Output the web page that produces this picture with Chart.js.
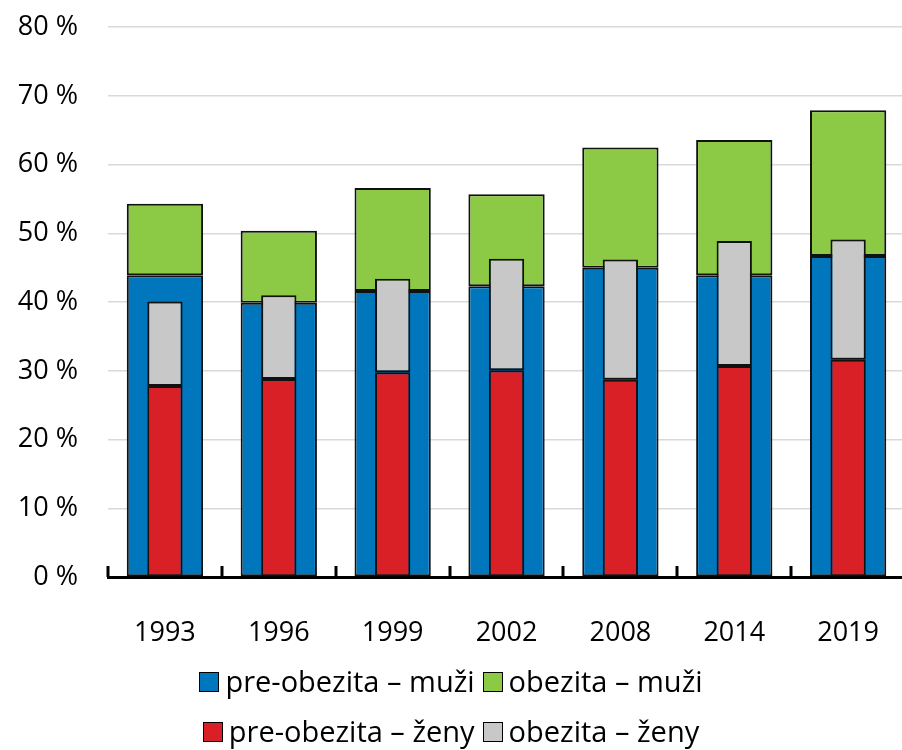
<!DOCTYPE html>
<html>
<head>
<meta charset="utf-8">
<script src="https://cdn.jsdelivr.net/npm/chart.js@4"></script>
<style>
  html, body { margin:0; background:#fff; font-family:"Open Sans", sans-serif; overflow:hidden; }
  #wrap { width:902px; height:750px; position:relative; overflow:hidden; }
  #myChart { position:absolute; left:0; top:-19px; }
  #legend { position:absolute; left:0; top:655px; width:902px; }
  .row { display:flex; justify-content:center; height:50px; align-items:center; font-size:29px; color:#000; }
  .item { display:flex; align-items:center; margin:0 4px; }
  .box { width:18px; height:18px; border:1.5px solid #000; margin-right:6px; margin-top:4px; }
</style>
</head>
<body>
<div id="wrap">
  <canvas id="myChart" width="911" height="679"></canvas>
  <div id="legend"></div>
</div>
<script>
// years
const labels = ['1993', '1996', '1999', '2002', '2008', '2014', '2019'];

// men, % of population
const preMen = [43.9, 39.9, 41.6, 42.3, 45.0, 43.9, 46.7];
const obeseMen = [10.4, 10.5, 15.0, 13.4, 17.5, 19.7, 21.2];

// women, % of population
const preWomen = [27.8, 28.8, 29.8, 30.1, 28.7, 30.7, 31.6];
const obeseWomen = [12.3, 12.2, 13.6, 16.2, 17.5, 18.2, 17.5];

const seriesNames = ['pre-obezita – muži', 'obezita – muži', 'pre-obezita – ženy', 'obezita – ženy'];
const seriesColors = ['#0077bd', '#8cc944', '#d92027', '#c8c8c8'];

const yTicks = [0, 10, 20, 30, 40, 50, 60, 70, 80];

const wide = 0.67;
const narrow = 0.31;

function bar(i, values, stack, pct, order) {
  return {
    label: seriesNames[i],
    data: values,
    backgroundColor: seriesColors[i],
    borderColor: '#111',
    borderWidth: 2,
    borderSkipped: false,
    stack: stack,
    grouped: false,
    barPercentage: pct,
    categoryPercentage: 1,
    order: order
  };
}

// small upward tick marks at category borders on the x axis
const axisTicks = {
  id: 'axisTicks',
  afterDraw(chart) {
    const ctx = chart.ctx;
    const a = chart.chartArea;
    const n = labels.length;
    const step = (a.right - a.left) / n;
    ctx.save();
    ctx.strokeStyle = '#000';
    ctx.lineWidth = 3;
    for (let i = 0; i <= n; i++) {
      const x = Math.round(a.left + i * step);
      ctx.beginPath();
      ctx.moveTo(x, a.bottom - 11);
      ctx.lineTo(x, a.bottom);
      ctx.stroke();
    }
    ctx.restore();
  }
};

const font = { family: '"Open Sans", sans-serif', size: 27 };

const config = {
  type: 'bar',
  data: {
    labels: labels,
    datasets: [
      bar(0, preMen, 'men', wide, 2),
      bar(1, obeseMen, 'men', wide, 2),
      bar(2, preWomen, 'women', narrow, 1),
      bar(3, obeseWomen, 'women', narrow, 1)
    ]
  },
  options: {
    responsive: false,
    animation: false,
    devicePixelRatio: 1,
    layout: { padding: { left: 14, top: 10, right: 0, bottom: 0 } },
    plugins: {
      legend: { display: false },
      tooltip: { enabled: false }
    },
    scales: {
      x: {
        stacked: true,
        z: 1,
        grid: { display: false },
        border: { display: true, color: '#000', width: 3 },
        ticks: { color: '#000', font: font, padding: 32, maxRotation: 0, autoSkip: false },
        afterFit(scale) { scale.height = 83; }
      },
      y: {
        stacked: true,
        min: 0,
        max: 80,
        afterBuildTicks(scale) {
          scale.ticks = yTicks.map(v => ({ value: v }));
        },
        grid: { color: '#d9d9d9', lineWidth: 1.5, drawTicks: false },
        border: { display: false },
        ticks: {
          color: '#000',
          font: font,
          padding: 30,
          callback: v => v + ' %'
        },
        afterFit(scale) { scale.width = 94; }
      }
    }
  },
  plugins: [axisTicks]
};

const myChart = new Chart(document.getElementById('myChart'), config);

// legend in two rows
const legend = document.getElementById('legend');
[[0, 1], [2, 3]].forEach(row => {
  const div = document.createElement('div');
  div.className = 'row';
  row.forEach(i => {
    const item = document.createElement('div');
    item.className = 'item';
    const box = document.createElement('span');
    box.className = 'box';
    box.style.background = seriesColors[i];
    const txt = document.createElement('span');
    txt.textContent = seriesNames[i];
    item.appendChild(box);
    item.appendChild(txt);
    div.appendChild(item);
  });
  legend.appendChild(div);
});
</script>
</body>
</html>
